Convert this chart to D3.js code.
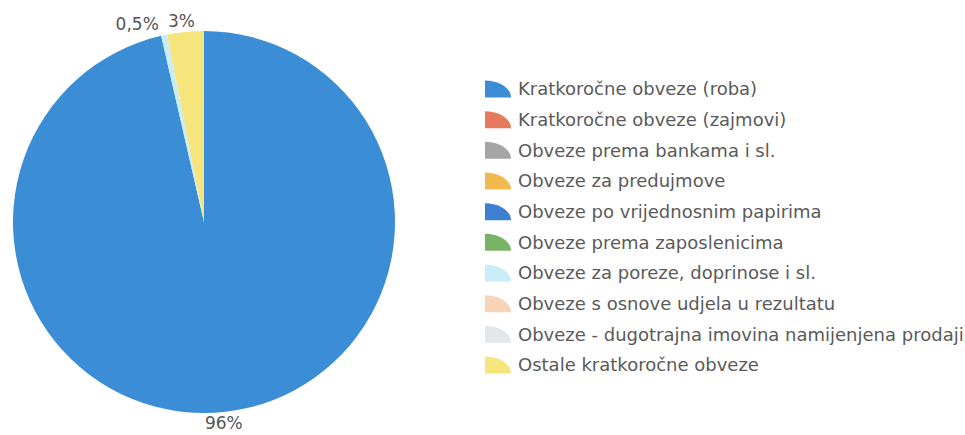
<!DOCTYPE html>
<html>
<head>
<meta charset="utf-8">
<script src="https://cdn.jsdelivr.net/npm/d3@7"></script>
<style>
  html, body { margin: 0; padding: 0; background: #ffffff; }
  svg { display: block; }
</style>
</head>
<body>
<svg id="chart" width="965" height="435"></svg>
<script>
// ---- data ----
const categories = [
  "Kratkoročne obveze (roba)",
  "Kratkoročne obveze (zajmovi)",
  "Obveze prema bankama i sl.",
  "Obveze za predujmove",
  "Obveze po vrijednosnim papirima",
  "Obveze prema zaposlenicima",
  "Obveze za poreze, doprinose i sl.",
  "Obveze s osnove udjela u rezultatu",
  "Obveze - dugotrajna imovina namijenjena prodaji",
  "Ostale kratkoročne obveze"
];
const values = [96.4, 0, 0, 0, 0, 0, 0.5, 0, 0, 3.1];
const valueLabels = ["96%", "", "", "", "", "", "0,5%", "", "", "3%"];
const colors = ["#3b8ed6", "#e67a5c", "#a5a5a5", "#f1b94f", "#3d7fd0", "#79b366",
                "#c9edf7", "#f8d3b5", "#e3e7ea", "#f6e57c"];

// ---- layout ----
const svg = d3.select("#chart");
const cx = 204, cy = 222, R = 191;

const pie = d3.pie().sort(null).value(d => d)(values);
const arc = d3.arc().innerRadius(0).outerRadius(R);
const labelArc = d3.arc().innerRadius(R + 11).outerRadius(R + 11);

const g = svg.append("g").attr("transform", `translate(${cx},${cy})`);

g.selectAll("path.slice")
  .data(pie.filter(d => d.value > 0))
  .join("path")
  .attr("class", "slice")
  .attr("d", arc)
  .attr("fill", d => colors[d.index]);

g.selectAll("text.vlabel")
  .data(pie.filter(d => d.value > 0))
  .join("text")
  .attr("class", "vlabel")
  .attr("x", d => labelArc.centroid(d)[0] + (d.value < 1 ? -3 : -3))
  .attr("y", d => labelArc.centroid(d)[1])
  .attr("dy", "0.35em")
  .attr("text-anchor", d => d.value < 1 ? "end" : "middle")
  .attr("font-family", "DejaVu Sans, Verdana, sans-serif")
  .attr("font-size", 17)
  .attr("fill", "#555")
  .text(d => valueLabels[d.index]);

// ---- legend ----
const ly = d3.scalePoint().domain(d3.range(categories.length)).range([89, 365]);
const legend = svg.append("g").attr("transform", "translate(485,0)");
const mw = 26, mh = 17;

const rows = legend.selectAll("g.row")
  .data(categories)
  .join("g")
  .attr("class", "row")
  .attr("transform", (d, i) => `translate(0,${ly(i)})`);

rows.append("path")
  .attr("d", () => {
    // quarter-ellipse wedge: bottom-left corner is the centre
    const p = d3.path();
    p.moveTo(0, mh / 2);
    p.lineTo(0, -mh / 2);
    p.bezierCurveTo(mw * 0.55, -mh / 2, mw, -mh / 2 + mh * 0.45, mw, mh / 2);
    p.closePath();
    return p.toString();
  })
  .attr("fill", (d, i) => colors[i]);

rows.append("text")
  .attr("x", 33)
  .attr("dy", "0.35em")
  .attr("font-family", "DejaVu Sans, Verdana, sans-serif")
  .attr("font-size", 18)
  .attr("fill", "#5a5a5a")
  .text(d => d);
</script>
</body>
</html>
